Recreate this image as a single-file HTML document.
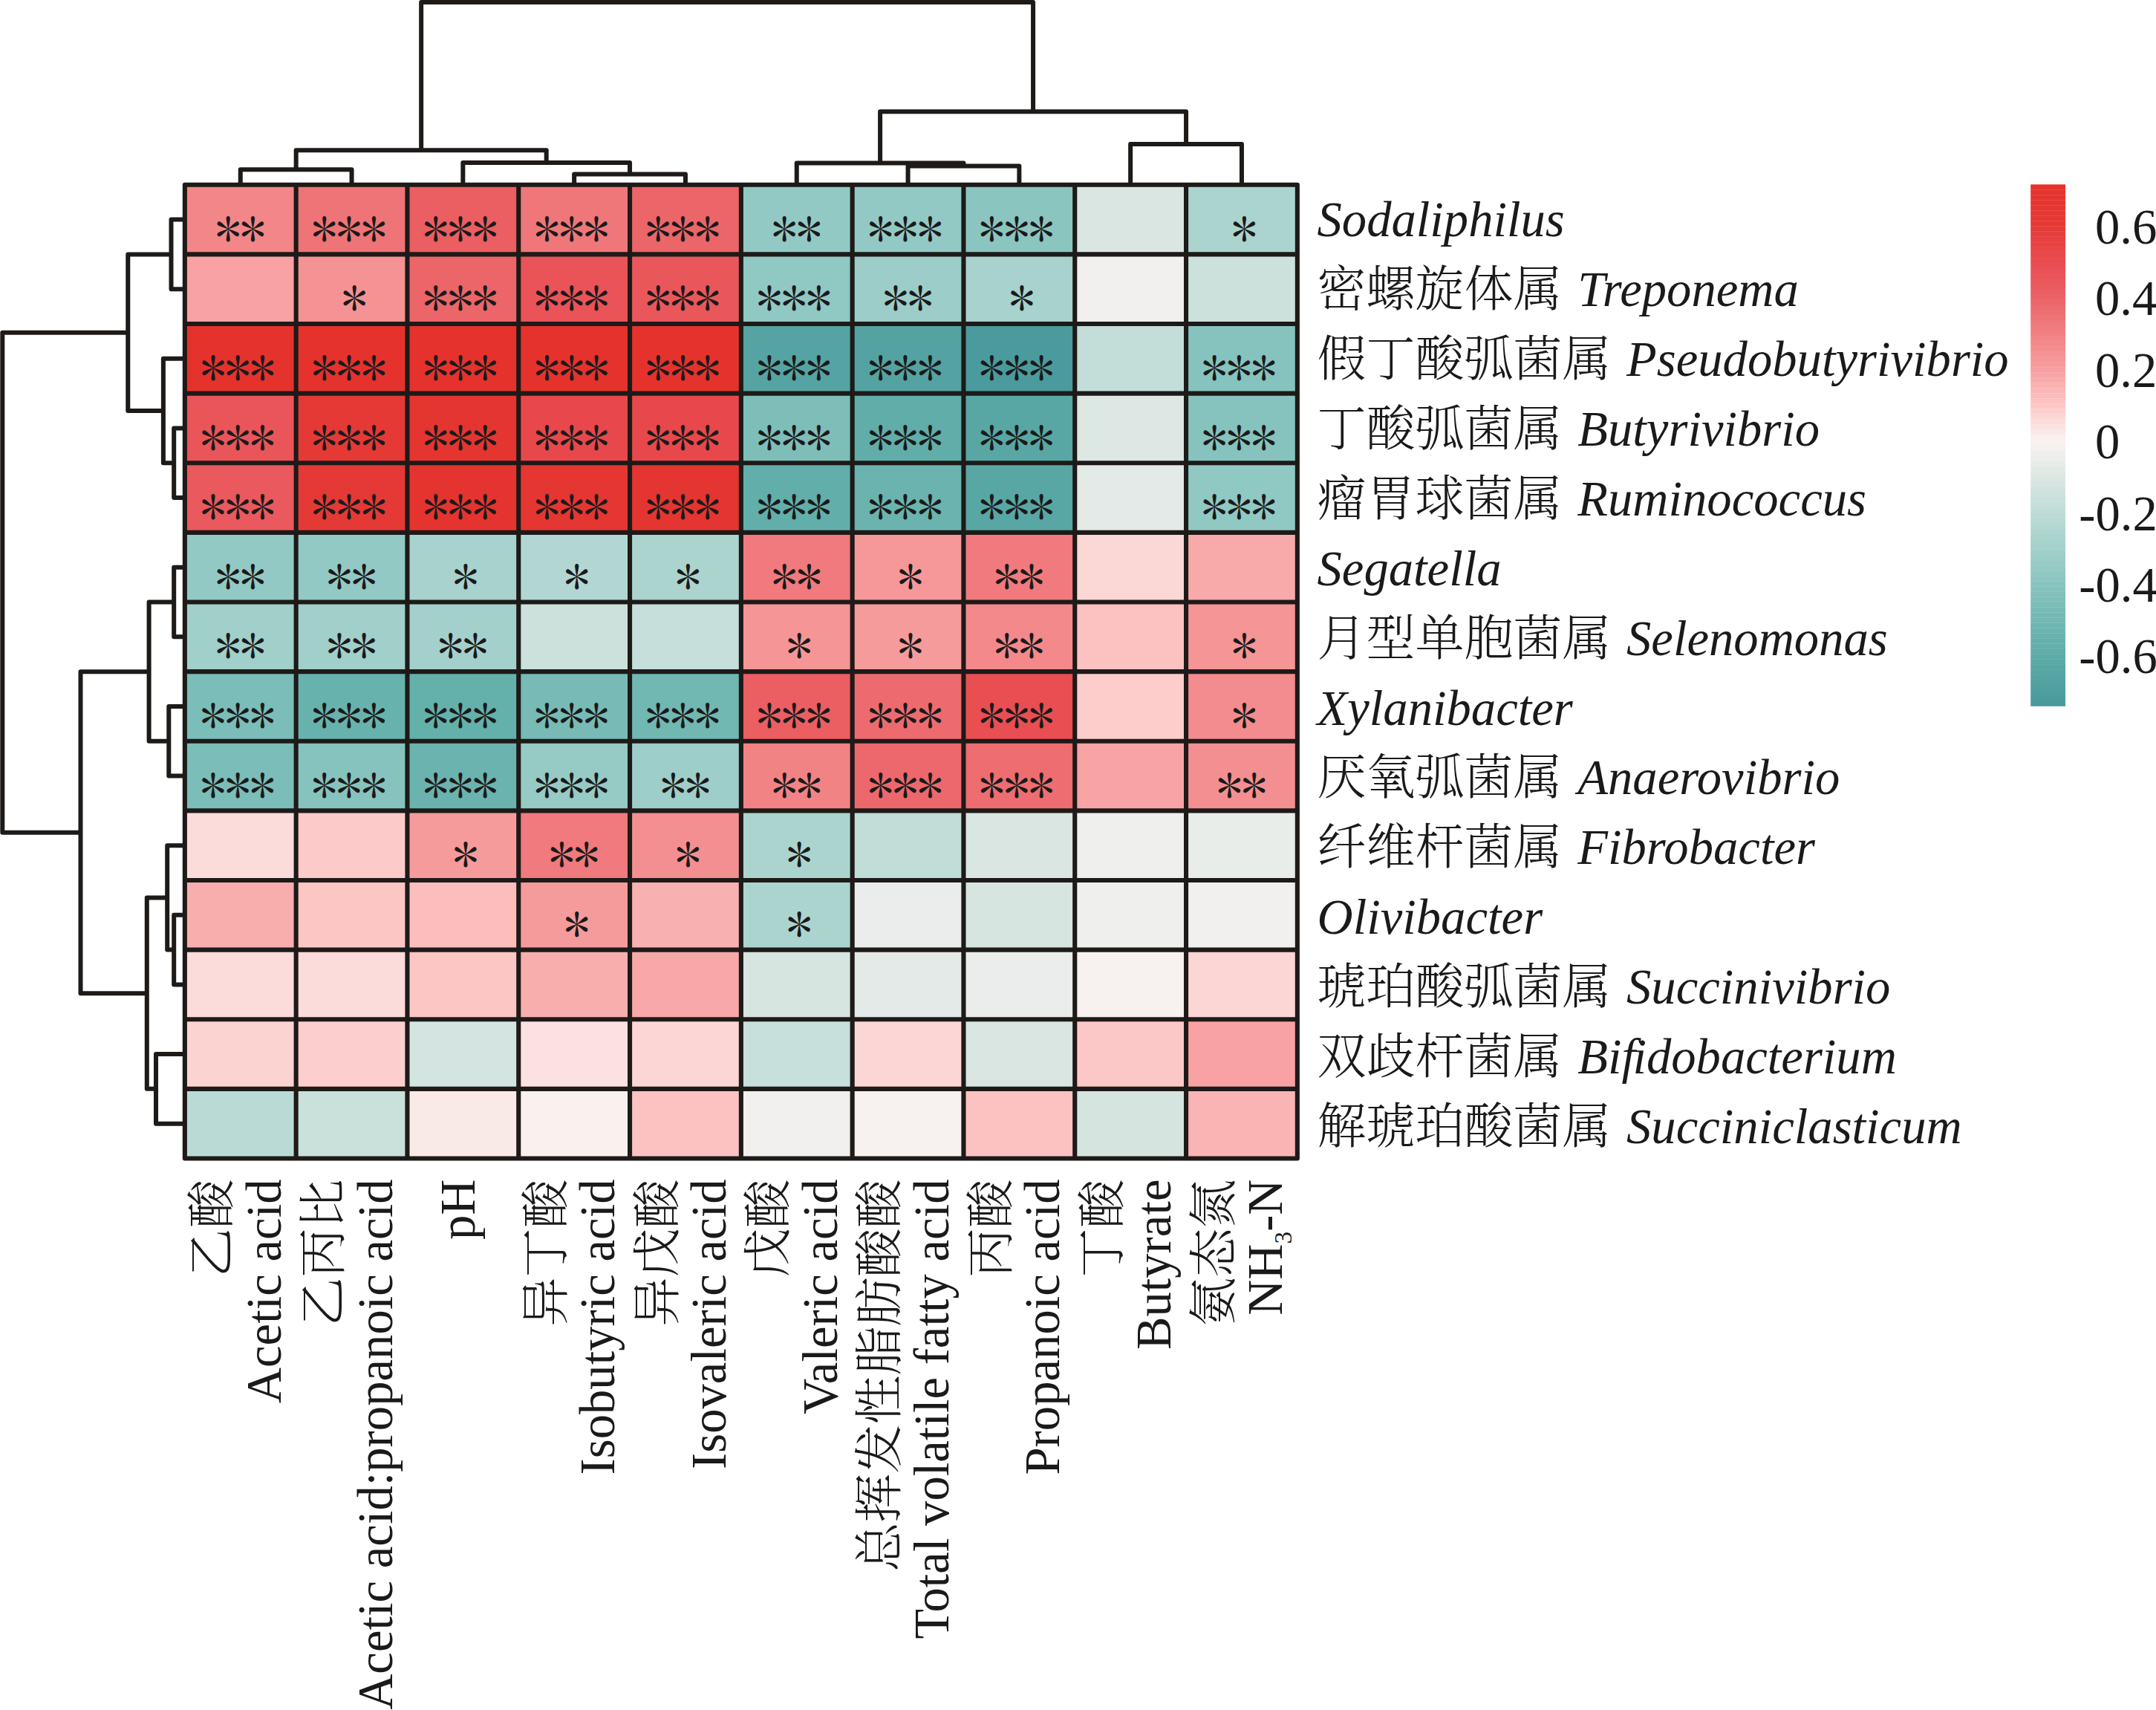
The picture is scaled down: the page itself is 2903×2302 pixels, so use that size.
<!DOCTYPE html>
<html lang="zh"><head><meta charset="utf-8"><title>Heatmap</title>
<style>html,body{margin:0;padding:0;background:#fff;overflow:hidden}svg{display:block}.lat{font-family:"Liberation Serif","Noto Serif CJK SC",serif;font-size:66.67px;fill:#1a1a1a}.it{font-style:italic;font-weight:400}.cjk{font-family:"Liberation Serif","Noto Serif CJK SC",serif;font-size:66.00px;font-weight:300;fill:#1a1a1a}.ast{font-family:"Noto Serif CJK SC",serif;font-feature-settings:"fwid" 1;font-weight:900;font-size:43.80px;letter-spacing:-8.93px;fill:#1a1a1a}.g{stroke:#1d1a18;stroke-width:6.10;fill:none;stroke-linejoin:round;stroke-linecap:round}.d{stroke:#1d1a18;stroke-width:6.00;fill:none;stroke-linejoin:round;stroke-linecap:butt}</style></head><body>
<svg width="2903" height="2302" viewBox="0 0 2903 2302">
<rect width="2903" height="2302" fill="#fff"/>
<g>
<rect x="248.85" y="248.80" width="150.10" height="93.92" fill="#f28688"/>
<rect x="398.65" y="248.80" width="150.10" height="93.92" fill="#ef7477"/>
<rect x="548.45" y="248.80" width="150.10" height="93.92" fill="#eb5e62"/>
<rect x="698.25" y="248.80" width="150.10" height="93.92" fill="#ef777a"/>
<rect x="848.05" y="248.80" width="150.10" height="93.92" fill="#ec6569"/>
<rect x="997.85" y="248.80" width="150.10" height="93.92" fill="#93c9c4"/>
<rect x="1147.65" y="248.80" width="150.10" height="93.92" fill="#93c9c4"/>
<rect x="1297.45" y="248.80" width="150.10" height="93.92" fill="#8bc5c0"/>
<rect x="1447.25" y="248.80" width="150.10" height="93.92" fill="#dae6e2"/>
<rect x="1597.05" y="248.80" width="150.10" height="93.92" fill="#acd4cf"/>
<rect x="248.85" y="342.42" width="150.10" height="93.92" fill="#f8a2a3"/>
<rect x="398.65" y="342.42" width="150.10" height="93.92" fill="#f59294"/>
<rect x="548.45" y="342.42" width="150.10" height="93.92" fill="#ec6569"/>
<rect x="698.25" y="342.42" width="150.10" height="93.92" fill="#ea5357"/>
<rect x="848.05" y="342.42" width="150.10" height="93.92" fill="#ea575b"/>
<rect x="997.85" y="342.42" width="150.10" height="93.92" fill="#90c8c3"/>
<rect x="1147.65" y="342.42" width="150.10" height="93.92" fill="#9ccdc8"/>
<rect x="1297.45" y="342.42" width="150.10" height="93.92" fill="#a7d2cd"/>
<rect x="1447.25" y="342.42" width="150.10" height="93.92" fill="#f2f0ee"/>
<rect x="1597.05" y="342.42" width="150.10" height="93.92" fill="#cce1dc"/>
<rect x="248.85" y="436.04" width="150.10" height="93.92" fill="#e5322d"/>
<rect x="398.65" y="436.04" width="150.10" height="93.92" fill="#e5322d"/>
<rect x="548.45" y="436.04" width="150.10" height="93.92" fill="#e5322d"/>
<rect x="698.25" y="436.04" width="150.10" height="93.92" fill="#e5322d"/>
<rect x="848.05" y="436.04" width="150.10" height="93.92" fill="#e5322d"/>
<rect x="997.85" y="436.04" width="150.10" height="93.92" fill="#55a4a3"/>
<rect x="1147.65" y="436.04" width="150.10" height="93.92" fill="#54a3a2"/>
<rect x="1297.45" y="436.04" width="150.10" height="93.92" fill="#4b9b9e"/>
<rect x="1447.25" y="436.04" width="150.10" height="93.92" fill="#c3ded9"/>
<rect x="1597.05" y="436.04" width="150.10" height="93.92" fill="#86c3be"/>
<rect x="248.85" y="529.66" width="150.10" height="93.92" fill="#ea5559"/>
<rect x="398.65" y="529.66" width="150.10" height="93.92" fill="#e53936"/>
<rect x="548.45" y="529.66" width="150.10" height="93.92" fill="#e53530"/>
<rect x="698.25" y="529.66" width="150.10" height="93.92" fill="#e8484b"/>
<rect x="848.05" y="529.66" width="150.10" height="93.92" fill="#e8484b"/>
<rect x="997.85" y="529.66" width="150.10" height="93.92" fill="#7ebeb9"/>
<rect x="1147.65" y="529.66" width="150.10" height="93.92" fill="#60ada9"/>
<rect x="1297.45" y="529.66" width="150.10" height="93.92" fill="#58a7a5"/>
<rect x="1447.25" y="529.66" width="150.10" height="93.92" fill="#dde7e3"/>
<rect x="1597.05" y="529.66" width="150.10" height="93.92" fill="#86c3be"/>
<rect x="248.85" y="623.28" width="150.10" height="93.92" fill="#ea595d"/>
<rect x="398.65" y="623.28" width="150.10" height="93.92" fill="#e53936"/>
<rect x="548.45" y="623.28" width="150.10" height="93.92" fill="#e5342f"/>
<rect x="698.25" y="623.28" width="150.10" height="93.92" fill="#e53632"/>
<rect x="848.05" y="623.28" width="150.10" height="93.92" fill="#e53530"/>
<rect x="997.85" y="623.28" width="150.10" height="93.92" fill="#62aeaa"/>
<rect x="1147.65" y="623.28" width="150.10" height="93.92" fill="#6bb3af"/>
<rect x="1297.45" y="623.28" width="150.10" height="93.92" fill="#58a7a5"/>
<rect x="1447.25" y="623.28" width="150.10" height="93.92" fill="#e3eae7"/>
<rect x="1597.05" y="623.28" width="150.10" height="93.92" fill="#90c8c3"/>
<rect x="248.85" y="716.90" width="150.10" height="93.92" fill="#93c9c4"/>
<rect x="398.65" y="716.90" width="150.10" height="93.92" fill="#93c9c4"/>
<rect x="548.45" y="716.90" width="150.10" height="93.92" fill="#a7d2cd"/>
<rect x="698.25" y="716.90" width="150.10" height="93.92" fill="#b2d7d2"/>
<rect x="848.05" y="716.90" width="150.10" height="93.92" fill="#acd4cf"/>
<rect x="997.85" y="716.90" width="150.10" height="93.92" fill="#f07a7d"/>
<rect x="1147.65" y="716.90" width="150.10" height="93.92" fill="#f69899"/>
<rect x="1297.45" y="716.90" width="150.10" height="93.92" fill="#f07a7d"/>
<rect x="1447.25" y="716.90" width="150.10" height="93.92" fill="#fbd8d6"/>
<rect x="1597.05" y="716.90" width="150.10" height="93.92" fill="#f8aaaa"/>
<rect x="248.85" y="810.52" width="150.10" height="93.92" fill="#a1cfca"/>
<rect x="398.65" y="810.52" width="150.10" height="93.92" fill="#a1cfca"/>
<rect x="548.45" y="810.52" width="150.10" height="93.92" fill="#a4d0cc"/>
<rect x="698.25" y="810.52" width="150.10" height="93.92" fill="#cce1dc"/>
<rect x="848.05" y="810.52" width="150.10" height="93.92" fill="#c6dfda"/>
<rect x="997.85" y="810.52" width="150.10" height="93.92" fill="#f59596"/>
<rect x="1147.65" y="810.52" width="150.10" height="93.92" fill="#f69b9c"/>
<rect x="1297.45" y="810.52" width="150.10" height="93.92" fill="#f3898b"/>
<rect x="1447.25" y="810.52" width="150.10" height="93.92" fill="#fcc2c1"/>
<rect x="1597.05" y="810.52" width="150.10" height="93.92" fill="#f59596"/>
<rect x="248.85" y="904.14" width="150.10" height="93.92" fill="#7bbdb8"/>
<rect x="398.65" y="904.14" width="150.10" height="93.92" fill="#68b2ae"/>
<rect x="548.45" y="904.14" width="150.10" height="93.92" fill="#64b0ab"/>
<rect x="698.25" y="904.14" width="150.10" height="93.92" fill="#77bab6"/>
<rect x="848.05" y="904.14" width="150.10" height="93.92" fill="#71b7b2"/>
<rect x="997.85" y="904.14" width="150.10" height="93.92" fill="#eb5e62"/>
<rect x="1147.65" y="904.14" width="150.10" height="93.92" fill="#ed6b6f"/>
<rect x="1297.45" y="904.14" width="150.10" height="93.92" fill="#e94e52"/>
<rect x="1447.25" y="904.14" width="150.10" height="93.92" fill="#fccdcb"/>
<rect x="1597.05" y="904.14" width="150.10" height="93.92" fill="#f38c8e"/>
<rect x="248.85" y="997.76" width="150.10" height="93.92" fill="#7bbdb8"/>
<rect x="398.65" y="997.76" width="150.10" height="93.92" fill="#86c3be"/>
<rect x="548.45" y="997.76" width="150.10" height="93.92" fill="#6bb3af"/>
<rect x="698.25" y="997.76" width="150.10" height="93.92" fill="#96cac5"/>
<rect x="848.05" y="997.76" width="150.10" height="93.92" fill="#9ecec9"/>
<rect x="997.85" y="997.76" width="150.10" height="93.92" fill="#f28385"/>
<rect x="1147.65" y="997.76" width="150.10" height="93.92" fill="#ec686c"/>
<rect x="1297.45" y="997.76" width="150.10" height="93.92" fill="#ed6d70"/>
<rect x="1447.25" y="997.76" width="150.10" height="93.92" fill="#f8a4a5"/>
<rect x="1597.05" y="997.76" width="150.10" height="93.92" fill="#f48f91"/>
<rect x="248.85" y="1091.38" width="150.10" height="93.92" fill="#fbdcda"/>
<rect x="398.65" y="1091.38" width="150.10" height="93.92" fill="#fccac9"/>
<rect x="548.45" y="1091.38" width="150.10" height="93.92" fill="#f69b9c"/>
<rect x="698.25" y="1091.38" width="150.10" height="93.92" fill="#f07a7d"/>
<rect x="848.05" y="1091.38" width="150.10" height="93.92" fill="#f48f91"/>
<rect x="997.85" y="1091.38" width="150.10" height="93.92" fill="#acd4cf"/>
<rect x="1147.65" y="1091.38" width="150.10" height="93.92" fill="#c0ddd8"/>
<rect x="1297.45" y="1091.38" width="150.10" height="93.92" fill="#d9e6e1"/>
<rect x="1447.25" y="1091.38" width="150.10" height="93.92" fill="#efefed"/>
<rect x="1597.05" y="1091.38" width="150.10" height="93.92" fill="#e9edea"/>
<rect x="248.85" y="1185.00" width="150.10" height="93.92" fill="#f9aeae"/>
<rect x="398.65" y="1185.00" width="150.10" height="93.92" fill="#fcc6c5"/>
<rect x="548.45" y="1185.00" width="150.10" height="93.92" fill="#fbbebd"/>
<rect x="698.25" y="1185.00" width="150.10" height="93.92" fill="#f69b9c"/>
<rect x="848.05" y="1185.00" width="150.10" height="93.92" fill="#f9b0b0"/>
<rect x="997.85" y="1185.00" width="150.10" height="93.92" fill="#acd4cf"/>
<rect x="1147.65" y="1185.00" width="150.10" height="93.92" fill="#eaedeb"/>
<rect x="1297.45" y="1185.00" width="150.10" height="93.92" fill="#d7e5e1"/>
<rect x="1447.25" y="1185.00" width="150.10" height="93.92" fill="#efefed"/>
<rect x="1597.05" y="1185.00" width="150.10" height="93.92" fill="#f2f0ee"/>
<rect x="248.85" y="1278.62" width="150.10" height="93.92" fill="#fbdcda"/>
<rect x="398.65" y="1278.62" width="150.10" height="93.92" fill="#fbdcda"/>
<rect x="548.45" y="1278.62" width="150.10" height="93.92" fill="#fcc6c5"/>
<rect x="698.25" y="1278.62" width="150.10" height="93.92" fill="#f9aeae"/>
<rect x="848.05" y="1278.62" width="150.10" height="93.92" fill="#f8a8a8"/>
<rect x="997.85" y="1278.62" width="150.10" height="93.92" fill="#d7e5e1"/>
<rect x="1147.65" y="1278.62" width="150.10" height="93.92" fill="#e4eae8"/>
<rect x="1297.45" y="1278.62" width="150.10" height="93.92" fill="#eaedeb"/>
<rect x="1447.25" y="1278.62" width="150.10" height="93.92" fill="#f7f2ef"/>
<rect x="1597.05" y="1278.62" width="150.10" height="93.92" fill="#fbd6d4"/>
<rect x="248.85" y="1372.24" width="150.10" height="93.92" fill="#fbd4d2"/>
<rect x="398.65" y="1372.24" width="150.10" height="93.92" fill="#fccfce"/>
<rect x="548.45" y="1372.24" width="150.10" height="93.92" fill="#d4e4e0"/>
<rect x="698.25" y="1372.24" width="150.10" height="93.92" fill="#fbe1df"/>
<rect x="848.05" y="1372.24" width="150.10" height="93.92" fill="#fbd6d4"/>
<rect x="997.85" y="1372.24" width="150.10" height="93.92" fill="#c7e0db"/>
<rect x="1147.65" y="1372.24" width="150.10" height="93.92" fill="#fbd6d4"/>
<rect x="1297.45" y="1372.24" width="150.10" height="93.92" fill="#d9e6e1"/>
<rect x="1447.25" y="1372.24" width="150.10" height="93.92" fill="#fcc8c7"/>
<rect x="1597.05" y="1372.24" width="150.10" height="93.92" fill="#f8a2a3"/>
<rect x="248.85" y="1465.86" width="150.10" height="93.92" fill="#badad6"/>
<rect x="398.65" y="1465.86" width="150.10" height="93.92" fill="#c9e0db"/>
<rect x="548.45" y="1465.86" width="150.10" height="93.92" fill="#faeae7"/>
<rect x="698.25" y="1465.86" width="150.10" height="93.92" fill="#faf1ee"/>
<rect x="848.05" y="1465.86" width="150.10" height="93.92" fill="#fcc2c1"/>
<rect x="997.85" y="1465.86" width="150.10" height="93.92" fill="#f2f0ee"/>
<rect x="1147.65" y="1465.86" width="150.10" height="93.92" fill="#f7f2ef"/>
<rect x="1297.45" y="1465.86" width="150.10" height="93.92" fill="#fcc2c1"/>
<rect x="1447.25" y="1465.86" width="150.10" height="93.92" fill="#d6e4e0"/>
<rect x="1597.05" y="1465.86" width="150.10" height="93.92" fill="#fab4b4"/>
</g>
<path class="g" d="M248.85 248.80V1559.48M398.65 248.80V1559.48M548.45 248.80V1559.48M698.25 248.80V1559.48M848.05 248.80V1559.48M997.85 248.80V1559.48M1147.65 248.80V1559.48M1297.45 248.80V1559.48M1447.25 248.80V1559.48M1597.05 248.80V1559.48M1746.85 248.80V1559.48M248.85 248.80H1746.85M248.85 342.42H1746.85M248.85 436.04H1746.85M248.85 529.66H1746.85M248.85 623.28H1746.85M248.85 716.90H1746.85M248.85 810.52H1746.85M248.85 904.14H1746.85M248.85 997.76H1746.85M248.85 1091.38H1746.85M248.85 1185.00H1746.85M248.85 1278.62H1746.85M248.85 1372.24H1746.85M248.85 1465.86H1746.85M248.85 1559.48H1746.85"/>
<path class="d" d="M323.75 246.25V228.20H473.55V246.25M773.15 246.25V234.50H922.95V246.25M623.35 246.25V219.00H848.05V234.50M398.65 228.20V202.20H735.70V219.00M1222.55 246.25V223.40H1372.35V246.25M1072.75 246.25V219.50H1297.45V223.40M1522.15 246.25V194.00H1671.95V246.25M1185.10 219.50V150.30H1597.05V194.00M567.17 202.20V3.00H1391.08V150.30M246.30 295.61H230.50V389.23H246.30M246.30 576.47H234.20V670.09H246.30M246.30 482.85H219.90V623.28H234.20M230.50 342.42H172.30V553.07H219.90M246.30 763.71H234.20V857.33H246.30M246.30 950.95H227.30V1044.57H246.30M234.20 810.52H200.60V997.76H227.30M246.30 1231.81H234.20V1325.43H246.30M246.30 1138.19H225.20V1278.62H234.20M246.30 1419.05H210.00V1512.67H246.30M225.20 1208.40H197.80V1465.86H210.00M200.60 904.14H108.50V1337.13H197.80M172.30 447.74H3.30V1120.64H108.50"/>
<g class="ast" transform="scale(0.955 1)">
<text x="299.67" y="324.77">**</text>
<text x="435.43" y="324.77">***</text>
<text x="592.29" y="324.77">***</text>
<text x="749.15" y="324.77">***</text>
<text x="906.01" y="324.77">***</text>
<text x="1083.96" y="324.77">**</text>
<text x="1219.72" y="324.77">***</text>
<text x="1376.58" y="324.77">***</text>
<text x="1732.50" y="324.77">*</text>
<text x="477.63" y="418.39">*</text>
<text x="592.29" y="418.39">***</text>
<text x="749.15" y="418.39">***</text>
<text x="906.01" y="418.39">***</text>
<text x="1062.86" y="418.39">***</text>
<text x="1240.82" y="418.39">**</text>
<text x="1418.78" y="418.39">*</text>
<text x="278.57" y="512.01">***</text>
<text x="435.43" y="512.01">***</text>
<text x="592.29" y="512.01">***</text>
<text x="749.15" y="512.01">***</text>
<text x="906.01" y="512.01">***</text>
<text x="1062.86" y="512.01">***</text>
<text x="1219.72" y="512.01">***</text>
<text x="1376.58" y="512.01">***</text>
<text x="1690.30" y="512.01">***</text>
<text x="278.57" y="605.63">***</text>
<text x="435.43" y="605.63">***</text>
<text x="592.29" y="605.63">***</text>
<text x="749.15" y="605.63">***</text>
<text x="906.01" y="605.63">***</text>
<text x="1062.86" y="605.63">***</text>
<text x="1219.72" y="605.63">***</text>
<text x="1376.58" y="605.63">***</text>
<text x="1690.30" y="605.63">***</text>
<text x="278.57" y="699.25">***</text>
<text x="435.43" y="699.25">***</text>
<text x="592.29" y="699.25">***</text>
<text x="749.15" y="699.25">***</text>
<text x="906.01" y="699.25">***</text>
<text x="1062.86" y="699.25">***</text>
<text x="1219.72" y="699.25">***</text>
<text x="1376.58" y="699.25">***</text>
<text x="1690.30" y="699.25">***</text>
<text x="299.67" y="792.87">**</text>
<text x="456.53" y="792.87">**</text>
<text x="634.49" y="792.87">*</text>
<text x="791.35" y="792.87">*</text>
<text x="948.20" y="792.87">*</text>
<text x="1083.96" y="792.87">**</text>
<text x="1261.92" y="792.87">*</text>
<text x="1397.68" y="792.87">**</text>
<text x="299.67" y="886.49">**</text>
<text x="456.53" y="886.49">**</text>
<text x="613.39" y="886.49">**</text>
<text x="1105.06" y="886.49">*</text>
<text x="1261.92" y="886.49">*</text>
<text x="1397.68" y="886.49">**</text>
<text x="1732.50" y="886.49">*</text>
<text x="278.57" y="980.11">***</text>
<text x="435.43" y="980.11">***</text>
<text x="592.29" y="980.11">***</text>
<text x="749.15" y="980.11">***</text>
<text x="906.01" y="980.11">***</text>
<text x="1062.86" y="980.11">***</text>
<text x="1219.72" y="980.11">***</text>
<text x="1376.58" y="980.11">***</text>
<text x="1732.50" y="980.11">*</text>
<text x="278.57" y="1073.73">***</text>
<text x="435.43" y="1073.73">***</text>
<text x="592.29" y="1073.73">***</text>
<text x="749.15" y="1073.73">***</text>
<text x="927.11" y="1073.73">**</text>
<text x="1083.96" y="1073.73">**</text>
<text x="1219.72" y="1073.73">***</text>
<text x="1376.58" y="1073.73">***</text>
<text x="1711.40" y="1073.73">**</text>
<text x="634.49" y="1167.35">*</text>
<text x="770.25" y="1167.35">**</text>
<text x="948.20" y="1167.35">*</text>
<text x="1105.06" y="1167.35">*</text>
<text x="791.35" y="1260.97">*</text>
<text x="1105.06" y="1260.97">*</text>
</g>
<text class="lat it" x="1773.5" y="318.4">Sodaliphilus</text>
<text class="cjk" x="1773.5" y="412.3">密螺旋体属 <tspan class="lat it" x="2124.3">Treponema</tspan></text>
<text class="cjk" x="1773.5" y="506.1">假丁酸弧菌属 <tspan class="lat it" x="2190.0">Pseudobutyrivibrio</tspan></text>
<text class="cjk" x="1773.5" y="600.0">丁酸弧菌属 <tspan class="lat it" x="2124.3">Butyrivibrio</tspan></text>
<text class="cjk" x="1773.5" y="693.9">瘤胃球菌属 <tspan class="lat it" x="2124.3">Ruminococcus</tspan></text>
<text class="lat it" x="1773.5" y="787.8">Segatella</text>
<text class="cjk" x="1773.5" y="881.6">月型单胞菌属 <tspan class="lat it" x="2190.0">Selenomonas</tspan></text>
<text class="lat it" x="1773.5" y="975.5">Xylanibacter</text>
<text class="cjk" x="1773.5" y="1069.4">厌氧弧菌属 <tspan class="lat it" x="2124.3">Anaerovibrio</tspan></text>
<text class="cjk" x="1773.5" y="1163.2">纤维杆菌属 <tspan class="lat it" x="2124.3">Fibrobacter</tspan></text>
<text class="lat it" x="1773.5" y="1257.1">Olivibacter</text>
<text class="cjk" x="1773.5" y="1351.0">琥珀酸弧菌属 <tspan class="lat it" x="2190.0">Succinivibrio</tspan></text>
<text class="cjk" x="1773.5" y="1444.8">双歧杆菌属 <tspan class="lat it" x="2124.3">Bi<tspan letter-spacing="-3.7">f</tspan>idobacterium</tspan></text>
<text class="cjk" x="1773.5" y="1538.7">解琥珀酸菌属 <tspan class="lat it" x="2190.0">Succiniclasticum</tspan></text>
<text class="cjk" text-anchor="end" transform="translate(308.2 1587.5) rotate(-90)">乙酸</text>
<text class="lat" text-anchor="end" transform="translate(377.8 1587.5) rotate(-90)">Acetic acid</text>
<text class="cjk" text-anchor="end" transform="translate(458.1 1587.5) rotate(-90)">乙丙比</text>
<text class="lat" text-anchor="end" transform="translate(527.5 1587.5) rotate(-90)">Acetic acid:propanoic acid</text>
<text class="lat" text-anchor="end" transform="translate(639.4 1587.5) rotate(-90)">pH</text>
<text class="cjk" text-anchor="end" transform="translate(757.7 1587.5) rotate(-90)">异丁酸</text>
<text class="lat" text-anchor="end" transform="translate(827.2 1587.5) rotate(-90)">Isobutyric acid</text>
<text class="cjk" text-anchor="end" transform="translate(907.5 1587.5) rotate(-90)">异戊酸</text>
<text class="lat" text-anchor="end" transform="translate(977.0 1587.5) rotate(-90)">Isovaleric acid</text>
<text class="cjk" text-anchor="end" transform="translate(1057.2 1587.5) rotate(-90)">戊酸</text>
<text class="lat" text-anchor="end" transform="translate(1126.8 1587.5) rotate(-90)">Valeric acid</text>
<text class="cjk" text-anchor="end" transform="translate(1207.0 1587.5) rotate(-90)">总挥发性脂肪酸酸</text>
<text class="lat" text-anchor="end" transform="translate(1276.5 1587.5) rotate(-90)">Total volatile fatty acid</text>
<text class="cjk" text-anchor="end" transform="translate(1356.8 1587.5) rotate(-90)">丙酸</text>
<text class="lat" text-anchor="end" transform="translate(1426.3 1587.5) rotate(-90)">Propanoic acid</text>
<text class="cjk" text-anchor="end" transform="translate(1506.7 1587.5) rotate(-90)">丁酸</text>
<text class="lat" text-anchor="end" transform="translate(1576.2 1587.5) rotate(-90)">Butyrate</text>
<text class="cjk" text-anchor="end" transform="translate(1656.5 1587.5) rotate(-90)">氨态氮</text>
<text class="lat" text-anchor="end" transform="translate(1726.0 1587.5) rotate(-90)">NH<tspan font-size="33.3" dy="13.3">3</tspan><tspan dy="-13.3">-N</tspan></text>
<g>
<rect x="2734.2" y="248.300" width="46.8" height="7.325" fill="#e5322c"/>
<rect x="2734.2" y="255.325" width="46.8" height="7.325" fill="#e5332d"/>
<rect x="2734.2" y="262.350" width="46.8" height="7.325" fill="#e5342f"/>
<rect x="2734.2" y="269.375" width="46.8" height="7.325" fill="#e53530"/>
<rect x="2734.2" y="276.400" width="46.8" height="7.325" fill="#e53631"/>
<rect x="2734.2" y="283.425" width="46.8" height="7.325" fill="#e53733"/>
<rect x="2734.2" y="290.450" width="46.8" height="7.325" fill="#e53834"/>
<rect x="2734.2" y="297.475" width="46.8" height="7.325" fill="#e53935"/>
<rect x="2734.2" y="304.500" width="46.8" height="7.325" fill="#e53b38"/>
<rect x="2734.2" y="311.525" width="46.8" height="7.325" fill="#e63e3c"/>
<rect x="2734.2" y="318.550" width="46.8" height="7.325" fill="#e74040"/>
<rect x="2734.2" y="325.575" width="46.8" height="7.325" fill="#e74344"/>
<rect x="2734.2" y="332.600" width="46.8" height="7.325" fill="#e84648"/>
<rect x="2734.2" y="339.625" width="46.8" height="7.325" fill="#e8494b"/>
<rect x="2734.2" y="346.650" width="46.8" height="7.325" fill="#e94b4f"/>
<rect x="2734.2" y="353.675" width="46.8" height="7.325" fill="#e94e52"/>
<rect x="2734.2" y="360.700" width="46.8" height="7.325" fill="#ea5256"/>
<rect x="2734.2" y="367.725" width="46.8" height="7.325" fill="#ea5559"/>
<rect x="2734.2" y="374.750" width="46.8" height="7.325" fill="#ea585c"/>
<rect x="2734.2" y="381.775" width="46.8" height="7.325" fill="#ea5b5f"/>
<rect x="2734.2" y="388.800" width="46.8" height="7.325" fill="#eb5f63"/>
<rect x="2734.2" y="395.825" width="46.8" height="7.325" fill="#eb6266"/>
<rect x="2734.2" y="402.850" width="46.8" height="7.325" fill="#ec666a"/>
<rect x="2734.2" y="409.875" width="46.8" height="7.325" fill="#ed6a6e"/>
<rect x="2734.2" y="416.900" width="46.8" height="7.325" fill="#ee6f72"/>
<rect x="2734.2" y="423.925" width="46.8" height="7.325" fill="#ee7376"/>
<rect x="2734.2" y="430.950" width="46.8" height="7.325" fill="#ef787a"/>
<rect x="2734.2" y="437.975" width="46.8" height="7.325" fill="#f07c7f"/>
<rect x="2734.2" y="445.000" width="46.8" height="7.325" fill="#f18083"/>
<rect x="2734.2" y="452.025" width="46.8" height="7.325" fill="#f28587"/>
<rect x="2734.2" y="459.050" width="46.8" height="7.325" fill="#f3898b"/>
<rect x="2734.2" y="466.075" width="46.8" height="7.325" fill="#f48d8f"/>
<rect x="2734.2" y="473.100" width="46.8" height="7.325" fill="#f59293"/>
<rect x="2734.2" y="480.125" width="46.8" height="7.325" fill="#f59698"/>
<rect x="2734.2" y="487.150" width="46.8" height="7.325" fill="#f69b9c"/>
<rect x="2734.2" y="494.175" width="46.8" height="7.325" fill="#f79fa0"/>
<rect x="2734.2" y="501.200" width="46.8" height="7.325" fill="#f8a5a6"/>
<rect x="2734.2" y="508.225" width="46.8" height="7.325" fill="#f9abab"/>
<rect x="2734.2" y="515.250" width="46.8" height="7.325" fill="#f9b1b1"/>
<rect x="2734.2" y="522.275" width="46.8" height="7.325" fill="#fab7b6"/>
<rect x="2734.2" y="529.300" width="46.8" height="7.325" fill="#fbbdbc"/>
<rect x="2734.2" y="536.325" width="46.8" height="7.325" fill="#fcc2c2"/>
<rect x="2734.2" y="543.350" width="46.8" height="7.325" fill="#fcc8c7"/>
<rect x="2734.2" y="550.375" width="46.8" height="7.325" fill="#fccfce"/>
<rect x="2734.2" y="557.400" width="46.8" height="7.325" fill="#fbd6d4"/>
<rect x="2734.2" y="564.425" width="46.8" height="7.325" fill="#fbdcda"/>
<rect x="2734.2" y="571.450" width="46.8" height="7.325" fill="#fbe3e0"/>
<rect x="2734.2" y="578.475" width="46.8" height="7.325" fill="#fae9e7"/>
<rect x="2734.2" y="585.500" width="46.8" height="7.325" fill="#faf0ed"/>
<rect x="2734.2" y="592.525" width="46.8" height="7.325" fill="#f8f2ef"/>
<rect x="2734.2" y="599.550" width="46.8" height="7.325" fill="#f4f1ee"/>
<rect x="2734.2" y="606.575" width="46.8" height="7.325" fill="#f0efed"/>
<rect x="2734.2" y="613.600" width="46.8" height="7.325" fill="#eceeec"/>
<rect x="2734.2" y="620.625" width="46.8" height="7.325" fill="#e7ece9"/>
<rect x="2734.2" y="627.650" width="46.8" height="7.325" fill="#e3eae6"/>
<rect x="2734.2" y="634.675" width="46.8" height="7.325" fill="#dee8e4"/>
<rect x="2734.2" y="641.700" width="46.8" height="7.325" fill="#dae6e2"/>
<rect x="2734.2" y="648.725" width="46.8" height="7.325" fill="#d6e5e0"/>
<rect x="2734.2" y="655.750" width="46.8" height="7.325" fill="#d2e3df"/>
<rect x="2734.2" y="662.775" width="46.8" height="7.325" fill="#cde2dd"/>
<rect x="2734.2" y="669.800" width="46.8" height="7.325" fill="#c9e0db"/>
<rect x="2734.2" y="676.825" width="46.8" height="7.325" fill="#c5dfda"/>
<rect x="2734.2" y="683.850" width="46.8" height="7.325" fill="#c1ddd8"/>
<rect x="2734.2" y="690.875" width="46.8" height="7.325" fill="#bddbd6"/>
<rect x="2734.2" y="697.900" width="46.8" height="7.325" fill="#b9dad5"/>
<rect x="2734.2" y="704.925" width="46.8" height="7.325" fill="#b4d8d3"/>
<rect x="2734.2" y="711.950" width="46.8" height="7.325" fill="#b0d6d1"/>
<rect x="2734.2" y="718.975" width="46.8" height="7.325" fill="#acd4cf"/>
<rect x="2734.2" y="726.000" width="46.8" height="7.325" fill="#a8d2cd"/>
<rect x="2734.2" y="733.025" width="46.8" height="7.325" fill="#a4d1cc"/>
<rect x="2734.2" y="740.050" width="46.8" height="7.325" fill="#a0cfca"/>
<rect x="2734.2" y="747.075" width="46.8" height="7.325" fill="#9ccdc8"/>
<rect x="2734.2" y="754.100" width="46.8" height="7.325" fill="#98cbc6"/>
<rect x="2734.2" y="761.125" width="46.8" height="7.325" fill="#94c9c4"/>
<rect x="2734.2" y="768.150" width="46.8" height="7.325" fill="#90c7c2"/>
<rect x="2734.2" y="775.175" width="46.8" height="7.325" fill="#8cc6c1"/>
<rect x="2734.2" y="782.200" width="46.8" height="7.325" fill="#88c4bf"/>
<rect x="2734.2" y="789.225" width="46.8" height="7.325" fill="#85c2bd"/>
<rect x="2734.2" y="796.250" width="46.8" height="7.325" fill="#81c0bb"/>
<rect x="2734.2" y="803.275" width="46.8" height="7.325" fill="#7ebfba"/>
<rect x="2734.2" y="810.300" width="46.8" height="7.325" fill="#7bbdb8"/>
<rect x="2734.2" y="817.325" width="46.8" height="7.325" fill="#78bbb6"/>
<rect x="2734.2" y="824.350" width="46.8" height="7.325" fill="#75b9b5"/>
<rect x="2734.2" y="831.375" width="46.8" height="7.325" fill="#72b8b3"/>
<rect x="2734.2" y="838.400" width="46.8" height="7.325" fill="#6fb6b1"/>
<rect x="2734.2" y="845.425" width="46.8" height="7.325" fill="#6cb4b0"/>
<rect x="2734.2" y="852.450" width="46.8" height="7.325" fill="#69b2ae"/>
<rect x="2734.2" y="859.475" width="46.8" height="7.325" fill="#66b0ac"/>
<rect x="2734.2" y="866.500" width="46.8" height="7.325" fill="#63afab"/>
<rect x="2734.2" y="873.525" width="46.8" height="7.325" fill="#60ada9"/>
<rect x="2734.2" y="880.550" width="46.8" height="7.325" fill="#5daba8"/>
<rect x="2734.2" y="887.575" width="46.8" height="7.325" fill="#5ba9a6"/>
<rect x="2734.2" y="894.600" width="46.8" height="7.325" fill="#59a7a5"/>
<rect x="2734.2" y="901.625" width="46.8" height="7.325" fill="#57a6a4"/>
<rect x="2734.2" y="908.650" width="46.8" height="7.325" fill="#55a4a3"/>
<rect x="2734.2" y="915.675" width="46.8" height="7.325" fill="#53a2a2"/>
<rect x="2734.2" y="922.700" width="46.8" height="7.325" fill="#51a0a1"/>
<rect x="2734.2" y="929.725" width="46.8" height="7.325" fill="#4e9e9f"/>
<rect x="2734.2" y="936.750" width="46.8" height="7.325" fill="#4c9c9e"/>
<rect x="2734.2" y="943.775" width="46.8" height="7.025" fill="#4a9a9d"/>
</g>
<text class="lat" x="2821.0" y="328.0">0.6</text>
<text class="lat" x="2821.0" y="424.3">0.4</text>
<text class="lat" x="2821.0" y="520.5">0.2</text>
<text class="lat" x="2821.0" y="616.7">0</text>
<text class="lat" x="2799.2" y="713.8">-0.2</text>
<text class="lat" x="2799.2" y="810.0">-0.4</text>
<text class="lat" x="2799.2" y="906.2">-0.6</text>
</svg></body></html>
